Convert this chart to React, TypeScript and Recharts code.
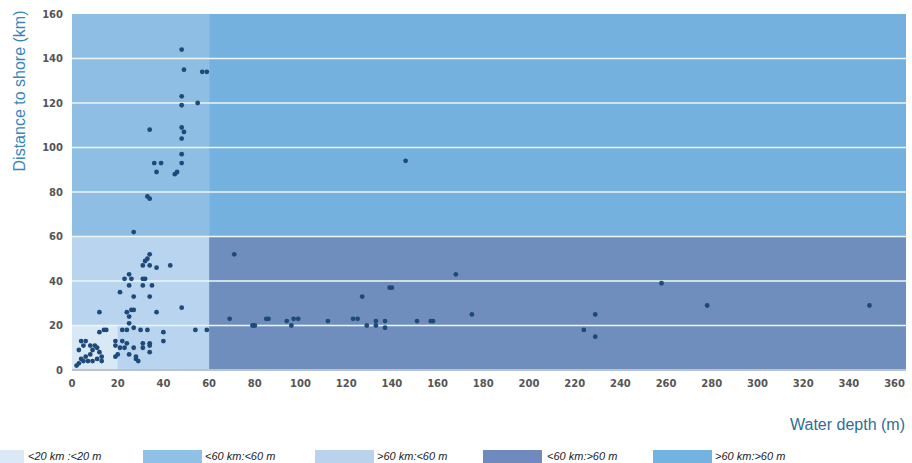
import { ScatterChart, Scatter, XAxis, YAxis, ReferenceArea, ReferenceLine } from "recharts";

// axis ticks
const depthTicks = [0, 20, 40, 60, 80, 100, 120, 140, 160, 180, 200, 220, 240, 260, 280, 300, 320, 340, 360];
const distanceTicks = [0, 20, 40, 60, 80, 100, 120, 140, 160];
const gridValues = [20, 40, 60, 80, 100, 120, 140];

// shallow water, far from shore (<60 m, >60 km)
const shallowFar = [
  { depth: 48, distance: 144 }, { depth: 49, distance: 135 }, { depth: 57, distance: 134 },
  { depth: 59, distance: 134 }, { depth: 48, distance: 123 }, { depth: 55, distance: 120 },
  { depth: 48, distance: 119 }, { depth: 34, distance: 108 }, { depth: 48, distance: 109 },
  { depth: 49, distance: 107 }, { depth: 48, distance: 104 }, { depth: 48, distance: 97 },
  { depth: 36, distance: 93 }, { depth: 39, distance: 93 }, { depth: 48, distance: 93 },
  { depth: 37, distance: 89 }, { depth: 45, distance: 88 }, { depth: 46, distance: 89 },
  { depth: 33, distance: 78 }, { depth: 34, distance: 77 }, { depth: 27, distance: 62 },
];

// shallow water, near shore (<60 m, <60 km)
const shallowNear = [
  { depth: 34, distance: 52 }, { depth: 32, distance: 49 }, { depth: 33, distance: 50 },
  { depth: 31, distance: 47 }, { depth: 34, distance: 47 }, { depth: 37, distance: 46 },
  { depth: 43, distance: 47 }, { depth: 25, distance: 43 }, { depth: 23, distance: 41 },
  { depth: 26, distance: 41 }, { depth: 31, distance: 41 }, { depth: 32, distance: 41 },
  { depth: 25, distance: 38 }, { depth: 31, distance: 38 }, { depth: 35, distance: 38 },
  { depth: 21, distance: 35 }, { depth: 27, distance: 33 }, { depth: 34, distance: 33 },
  { depth: 12, distance: 26 }, { depth: 24, distance: 26 }, { depth: 26, distance: 27 },
  { depth: 27, distance: 27 }, { depth: 37, distance: 26 }, { depth: 48, distance: 28 },
  { depth: 25, distance: 24 }, { depth: 25, distance: 21 }, { depth: 12, distance: 17 },
  { depth: 14, distance: 18 }, { depth: 15, distance: 18 }, { depth: 22, distance: 18 },
  { depth: 24, distance: 18 }, { depth: 27, distance: 19 }, { depth: 30, distance: 18 },
  { depth: 33, distance: 18 }, { depth: 40, distance: 17 }, { depth: 54, distance: 18 },
  { depth: 59, distance: 18 },
  { depth: 4, distance: 13 }, { depth: 6, distance: 13 }, { depth: 5, distance: 11 },
  { depth: 8, distance: 11 }, { depth: 10, distance: 11 }, { depth: 3, distance: 9 },
  { depth: 9, distance: 9 }, { depth: 11, distance: 10 }, { depth: 19, distance: 13 },
  { depth: 22, distance: 13 }, { depth: 24, distance: 12 }, { depth: 19, distance: 11 },
  { depth: 21, distance: 10 }, { depth: 23, distance: 10 }, { depth: 31, distance: 12 },
  { depth: 34, distance: 12 }, { depth: 40, distance: 13 }, { depth: 31, distance: 10 },
  { depth: 34, distance: 11 }, { depth: 27, distance: 10 }, { depth: 34, distance: 8 },
  { depth: 12, distance: 8 }, { depth: 13, distance: 6 }, { depth: 8, distance: 7 },
  { depth: 6, distance: 6 }, { depth: 20, distance: 7 }, { depth: 19, distance: 6 },
  { depth: 25, distance: 7 }, { depth: 28, distance: 5 }, { depth: 29, distance: 4 },
  { depth: 28, distance: 6 }, { depth: 2, distance: 2 }, { depth: 3, distance: 3 },
  { depth: 5, distance: 4 }, { depth: 7, distance: 4 }, { depth: 9, distance: 4 },
  { depth: 11, distance: 5 }, { depth: 13, distance: 4 }, { depth: 4, distance: 5 },
];

// deeper than 60 m
const deepWater = [
  { depth: 71, distance: 52 }, { depth: 69, distance: 23 }, { depth: 79, distance: 20 },
  { depth: 80, distance: 20 }, { depth: 85, distance: 23 }, { depth: 86, distance: 23 },
  { depth: 94, distance: 22 }, { depth: 96, distance: 20 }, { depth: 97, distance: 23 },
  { depth: 99, distance: 23 }, { depth: 112, distance: 22 }, { depth: 123, distance: 23 },
  { depth: 125, distance: 23 }, { depth: 127, distance: 33 }, { depth: 129, distance: 20 },
  { depth: 133, distance: 22 }, { depth: 133, distance: 20 }, { depth: 137, distance: 19 },
  { depth: 137, distance: 22 }, { depth: 139, distance: 37 }, { depth: 140, distance: 37 },
  { depth: 151, distance: 22 }, { depth: 157, distance: 22 }, { depth: 158, distance: 22 },
  { depth: 168, distance: 43 }, { depth: 175, distance: 25 }, { depth: 224, distance: 18 },
  { depth: 229, distance: 25 }, { depth: 229, distance: 15 }, { depth: 258, distance: 39 },
  { depth: 278, distance: 29 }, { depth: 349, distance: 29 }, { depth: 146, distance: 94 },
];

// zone bounds: [x1, x2, y1, y2]
const zoneShallowFar = [0, 60, 60, 160];
const zoneShallowNear = [0, 60, 0, 60];
const zoneDeepNear = [60, 365, 0, 60];
const zoneDeepFar = [60, 365, 60, 160];
const zoneCoastal = [0, 20, 0, 20];

const legendLabels = ["<20 km :<20 m", "<60 km:<60 m", ">60 km:<60 m", "<60 km:>60 m", ">60 km:>60 m"];
const legendColors = ["#dbe9f6", "#8fc0e6", "#b9d3ec", "#6f8bbd", "#73b3e2"];
const legendPos = [
  { left: -35, text: 28 },
  { left: 143, text: 205 },
  { left: 315, text: 377 },
  { left: 483, text: 547 },
  { left: 653, text: 715 },
];

const tickStyle = { fill: "#555", fontSize: 10, fontWeight: 700, fontFamily: "DejaVu Sans" };
const dotColor = "#1d4a7a";

// small dots like the original
const Dot = (props: any) => {
  const { cx, cy } = props;
  if (cx == null || cy == null) return null;
  return <circle cx={cx} cy={cy} r={2.4} fill={dotColor} />;
};

export default function App() {
  const zones: Array<[number[], string]> = [
    [zoneShallowFar, "#8ebee3"],
    [zoneShallowNear, "#b9d4ee"],
    [zoneDeepNear, "#6f8ebe"],
    [zoneDeepFar, "#74b1df"],
    [zoneCoastal, "#d9e8f5"],
  ];
  return (
    <div
      style={{
        position: "fixed",
        left: 0,
        top: 0,
        width: 912,
        height: 463,
        overflow: "hidden",
        background: "#fff",
        fontFamily: "'Liberation Sans', Arial, sans-serif",
      }}
    >
      <ScatterChart width={912} height={400} margin={{ top: 14, right: 6, left: 0, bottom: 0 }}>
        <XAxis
          type="number"
          dataKey="depth"
          domain={[0, 365]}
          ticks={depthTicks}
          interval={0}
          tick={tickStyle}
          tickLine={false}
          tickSize={0}
          tickMargin={10}
          axisLine={{ stroke: "#b9c3cf", strokeWidth: 2 }}
          height={30}
        />
        <YAxis
          type="number"
          dataKey="distance"
          domain={[0, 160]}
          ticks={distanceTicks}
          interval={0}
          tick={tickStyle}
          tickLine={false}
          tickSize={0}
          tickMargin={9}
          axisLine={false}
          width={72}
        />
        {zones.map(([b, color], i) => (
          <ReferenceArea
            key={i}
            x1={b[0]}
            x2={b[1]}
            y1={b[2]}
            y2={b[3]}
            fill={color}
            fillOpacity={1}
            stroke="none"
            ifOverflow="visible"
          />
        ))}
        {gridValues.map((v) => (
          <ReferenceLine key={v} y={v} stroke="#eef6f3" strokeWidth={1.6} />
        ))}
        <Scatter data={shallowFar} shape={Dot} isAnimationActive={false} />
        <Scatter data={shallowNear} shape={Dot} isAnimationActive={false} />
        <Scatter data={deepWater} shape={Dot} isAnimationActive={false} />
      </ScatterChart>

      <div
        style={{
          position: "absolute",
          left: 20 - 100,
          top: 91 - 10,
          width: 200,
          height: 20,
          lineHeight: "20px",
          textAlign: "center",
          transform: "rotate(-90deg)",
          fontSize: 16,
          color: "#3a86b8",
          whiteSpace: "nowrap",
        }}
      >
        Distance to shore (km)
      </div>
      <div
        style={{
          position: "absolute",
          right: 7,
          top: 415,
          fontSize: 16,
          lineHeight: "20px",
          color: "#2f6d96",
          whiteSpace: "nowrap",
        }}
      >
        Water depth (m)
      </div>

      {legendLabels.map((label, i) => (
        <div key={label}>
          <div
            style={{
              position: "absolute",
              left: legendPos[i].left,
              top: 450,
              width: 59,
              height: 16,
              background: legendColors[i],
            }}
          />
          <div
            style={{
              position: "absolute",
              left: legendPos[i].text,
              top: 449,
              fontSize: 11,
              lineHeight: "14px",
              fontStyle: "italic",
              color: "#222",
              whiteSpace: "nowrap",
            }}
          >
            {label}
          </div>
        </div>
      ))}
    </div>
  );
}
